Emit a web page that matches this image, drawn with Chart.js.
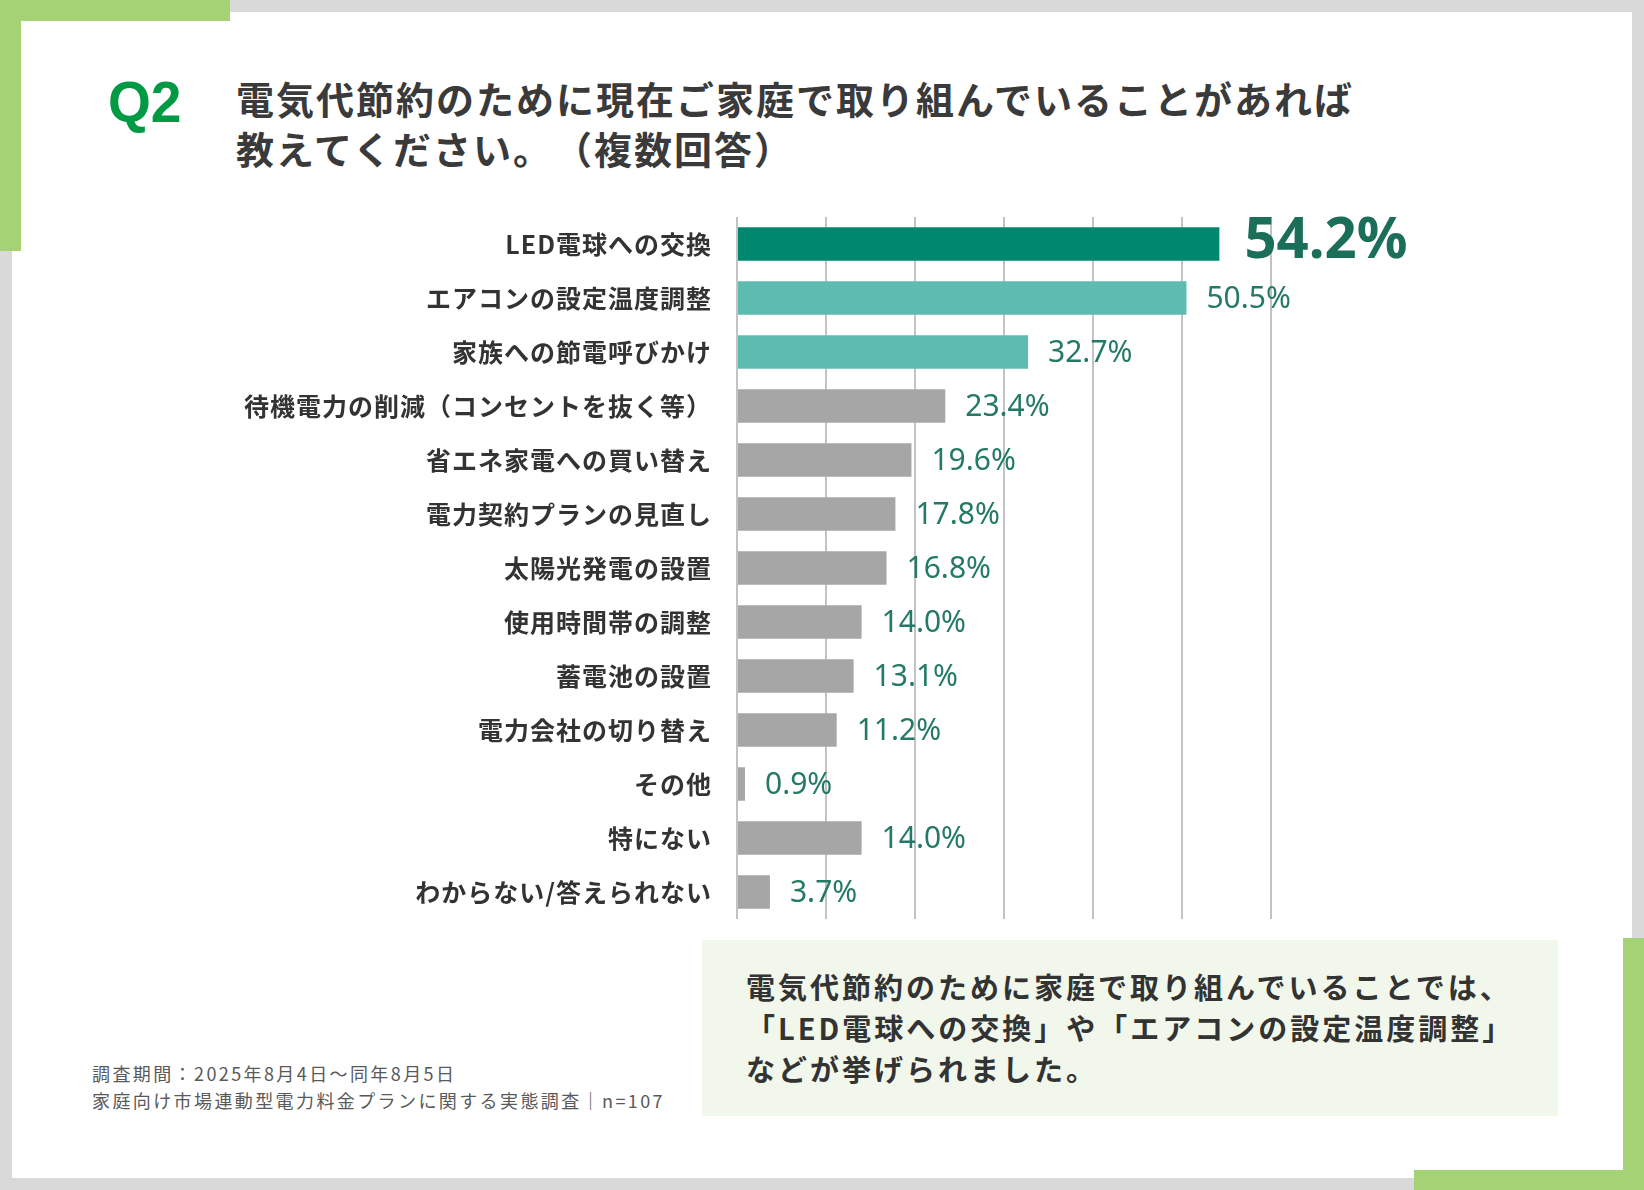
<!DOCTYPE html>
<html><head><meta charset="utf-8">
<script src="https://cdn.jsdelivr.net/npm/chart.js@4"></script>
<style>
html,body{margin:0;padding:0;}
body{width:1644px;height:1190px;background:#d9d9d9;position:relative;overflow:hidden;font-family:"Noto Sans CJK JP","Noto Sans",sans-serif;}
.abs{position:absolute;}
#panel{left:12px;top:12px;width:1620px;height:1166px;background:#fff;}
.g{position:absolute;background:#a5d274;}
#q2{left:108px;top:73px;font:bold 58px "Liberation Sans",Arial,sans-serif;line-height:1;color:#009a44;transform:scaleX(0.95);transform-origin:left top;}
#title{left:236px;top:73px;font-weight:bold;font-size:38px;line-height:50px;letter-spacing:2px;color:#3a3a3a;white-space:nowrap;}
#note{left:702px;top:940px;width:856px;height:176px;background:#f1f7eb;}
#notetext{left:746px;top:966px;font-weight:bold;font-size:29px;line-height:41px;letter-spacing:3px;color:#333;white-space:nowrap;}
#foot{left:92px;top:1060px;font-size:18px;line-height:27px;letter-spacing:2.4px;color:#595959;white-space:nowrap;}
#chartbox{left:200px;top:190px;width:1400px;height:760px;}
</style>
</head>
<body>
<div id="panel" class="abs"></div>
<div class="g" style="left:0;top:0;width:230px;height:21px;"></div>
<div class="g" style="left:0;top:0;width:21px;height:251px;"></div>
<div id="note" class="abs"></div>
<div class="g" style="left:1623px;top:938px;width:21px;height:252px;"></div>
<div class="g" style="left:1414px;top:1170px;width:230px;height:20px;"></div>
<div id="q2" class="abs">Q2</div>
<div id="title" class="abs">電気代節約のために現在ご家庭で取り組んでいることがあれば<br>教えてください。<span style="margin-left:20px"></span>（複数回答）</div>
<div id="notetext" class="abs">電気代節約のために家庭で取り組んでいることでは、<br>「LED電球への交換」や「エアコンの設定温度調整」<br>などが挙げられました。</div>
<div id="foot" class="abs">調査期間：2025年8月4日～同年8月5日<br>家庭向け市場連動型電力料金プランに関する実態調査｜n=107</div>
<div id="chartbox" class="abs"><canvas id="c"></canvas></div>
<script>
const categories = [
  'LED電球への交換',
  'エアコンの設定温度調整',
  '家族への節電呼びかけ',
  '待機電力の削減（コンセントを抜く等）',
  '省エネ家電への買い替え',
  '電力契約プランの見直し',
  '太陽光発電の設置',
  '使用時間帯の調整',
  '蓄電池の設置',
  '電力会社の切り替え',
  'その他',
  '特にない',
  'わからない/答えられない'
];
const values = [54.2, 50.5, 32.7, 23.4, 19.6, 17.8, 16.8, 14.0, 13.1, 11.2, 0.9, 14.0, 3.7];
const axisMin = 0;
const axisMax = 60;
const axisStep = 10;

const COLOR_TOP = '#00876f';
const COLOR_HIGH = '#5dbcb2';
const COLOR_REST = '#a6a6a6';
const barColors = values.map((v, i) => i === 0 ? COLOR_TOP : (i < 3 ? COLOR_HIGH : COLOR_REST));

const tickSpacing = {
  id: 'tickSpacing',
  beforeDraw(chart) { chart.ctx.letterSpacing = '1px'; },
  beforeDatasetsDraw(chart) { chart.ctx.letterSpacing = '0px'; }
};

const valueLabels = {
  id: 'valueLabels',
  afterDatasetsDraw(chart) {
    const ctx = chart.ctx;
    const meta = chart.getDatasetMeta(0);
    meta.data.forEach((bar, i) => {
      const big = i === 0;
      ctx.save();
      ctx.letterSpacing = '0px';
      ctx.translate(bar.x + (big ? 25 : 20), bar.y + (big ? -3 : 1));
      ctx.scale(big ? 0.97 : 1.0, 1);
      ctx.font = (big ? 'bold 58px' : '30px') + ' "Noto Sans", sans-serif';
      ctx.fillStyle = big ? '#1a6e5a' : '#247a66';
      ctx.textAlign = 'left';
      ctx.textBaseline = 'middle';
      ctx.fillText(values[i].toFixed(1) + '%', 0, 0);
      ctx.restore();
    });
  }
};

new Chart(document.getElementById('c'), {
  type: 'bar',
  data: {
    labels: categories,
    datasets: [{
      data: values,
      backgroundColor: barColors,
      borderWidth: 0,
      barPercentage: 0.62,
      categoryPercentage: 1
    }]
  },
  options: {
    indexAxis: 'y',
    responsive: true,
    maintainAspectRatio: false,
    animation: false,
    layout: { padding: { left: 0, right: 329, top: 27, bottom: 31 } },
    plugins: { legend: { display: false }, tooltip: { enabled: false } },
    scales: {
      x: {
        min: axisMin, max: axisMax,
        ticks: { display: false, stepSize: axisStep },
        grid: { color: '#c3c3c3', lineWidth: 2, drawTicks: false },
        border: { display: false },
        afterFit(s) { s.height = 0; s.paddingLeft = 0; s.paddingRight = 0; }
      },
      y: {
        ticks: {
          font: { family: '"Noto Sans CJK JP", sans-serif', size: 25, weight: 'bold' },
          color: '#333333',
          padding: 25
        },
        grid: { display: false, drawTicks: false },
        border: { display: false },
        afterFit(s) { s.width = 537; s.paddingTop = 0; s.paddingBottom = 0; }
      }
    }
  },
  plugins: [tickSpacing, valueLabels]
});
</script>
</body></html>
